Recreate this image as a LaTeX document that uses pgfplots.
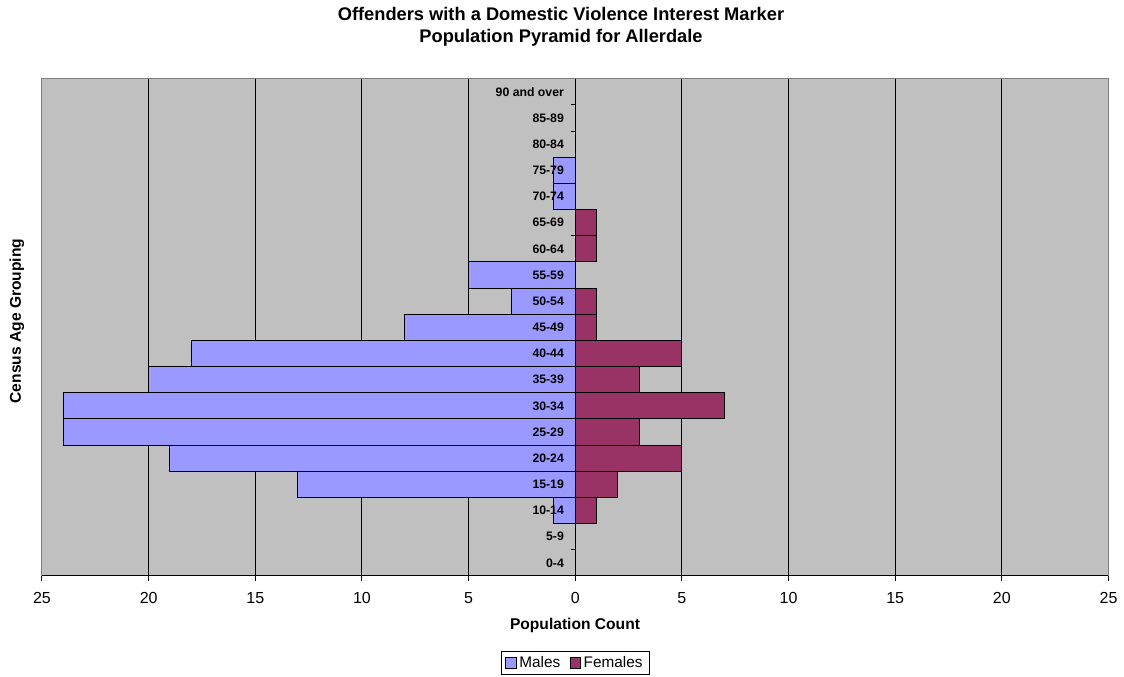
\documentclass[border=0pt]{standalone}
\usepackage{pgfplots}
\pgfplotsset{compat=1.18}
\usepackage{fontspec}
\setmainfont{Liberation Sans}
\definecolor{bg}{HTML}{C0C0C0}
\definecolor{male}{HTML}{9999FF}
\definecolor{female}{HTML}{993366}
\definecolor{framec}{HTML}{808080}
\begin{document}
\begin{tikzpicture}
\path[use as bounding box] (-31.5pt,-75.75pt) rectangle (811.5pt,432pt);
\begin{axis}[
  at={(0,0)}, anchor=south west,
  scale only axis, width=799.9pt, height=373pt,
  xmin=-25, xmax=25, ymin=-0.5, ymax=18.5,
  axis x line=bottom, axis y line=center,
  axis line style={-, black, line width=0.75pt},
  axis background/.style={fill=bg},
  bar width=1, bar shift=0pt,
  xtick={-25,-20,...,25},
  xticklabels={25,20,15,10,5,0,5,10,15,20,25},
  ytick={-0.5,0.5,...,18.5},
  yticklabels={},
  yticklabel style={text opacity=0},
  tick align=outside,
  major tick length=3.5pt,
  tick style={black, line width=0.75pt},
  xmajorgrids,
  major x grid style={black, line width=0.75pt},
  /pgf/number format/assume math mode=true,
  xticklabel style={font=\fontsize{12}{14}\selectfont, yshift=-5.5pt},
  legend style={at={(0.5,0)}, anchor=center, yshift=-65.25pt, legend columns=2, draw=black, line width=0.75pt,
    font=\fontsize{11.5}{13}\selectfont, inner xsep=3pt, inner ysep=2pt,
    /tikz/every even column/.append style={column sep=5pt}},
  legend image code/.code={\draw[#1,draw=black,line width=0.75pt] (0pt,-3.9pt) rectangle (7.8pt,3.9pt);},
]
\addplot[xbar, fill=male, draw=black, line width=0.75pt] table {
x y
-1 2
-13 3
-19 4
-24 5
-24 6
-20 7
-18 8
-8 9
-3 10
-5 11
-1 14
-1 15
};
\addlegendentry{Males}
\addplot[xbar, fill=female, draw=black, line width=0.75pt] table {
x y
1 2
2 3
5 4
3 5
7 6
3 7
5 8
1 9
1 10
1 12
1 13
};
\addlegendentry{Females}
\addplot[draw=none, mark=none, forget plot,
  nodes near coords, point meta=explicit symbolic,
  nodes near coords style={anchor=east, xshift=-5pt, font=\fontsize{9.2}{11}\selectfont\bfseries, text=black}]
  table[col sep=comma, x=x, y=y, meta=label] {
x,y,label
0,0,0-4
0,1,5-9
0,2,10-14
0,3,15-19
0,4,20-24
0,5,25-29
0,6,30-34
0,7,35-39
0,8,40-44
0,9,45-49
0,10,50-54
0,11,55-59
0,12,60-64
0,13,65-69
0,14,70-74
0,15,75-79
0,16,80-84
0,17,85-89
0,18,90 and over
};
\end{axis}
\draw[framec, line width=0.75pt] (0,0) -- (0,373pt) -- (799.9pt,373pt) -- (799.9pt,0);
\node[font=\fontsize{13.7}{16}\selectfont\bfseries, anchor=base] at (389.25pt,416.7pt) {Offenders with a Domestic Violence Interest Marker};
\node[font=\fontsize{13.7}{16}\selectfont\bfseries, anchor=base] at (389.25pt,400.2pt) {Population Pyramid for Allerdale};
\node[font=\fontsize{11.7}{14}\selectfont\bfseries] at (399.75pt,-36.75pt) {Population Count};
\node[font=\fontsize{11.7}{14}\selectfont\bfseries, rotate=90] at (-18.75pt,191.25pt) {Census Age Grouping};
\end{tikzpicture}
\end{document}
